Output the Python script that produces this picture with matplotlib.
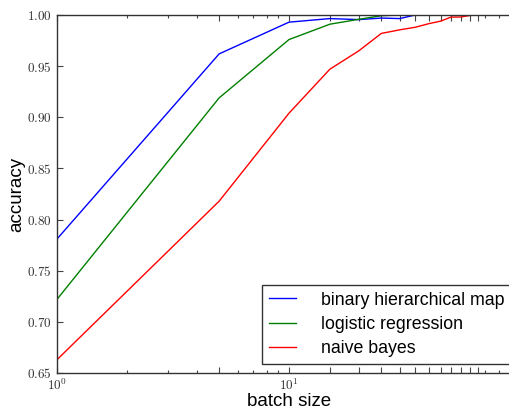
import math
import matplotlib
matplotlib.use("Agg")
import matplotlib.pyplot as plt
from matplotlib.ticker import FixedLocator, FuncFormatter, LogLocator, NullFormatter

plt.rcParams['mathtext.fontset'] = 'cm'
plt.rcParams['font.family'] = ['Liberation Sans', 'DejaVu Sans']

# batch sizes and accuracies
batch = [1, 5, 10, 15, 20, 25, 30, 35, 40, 45, 50, 55, 60, 65]
acc_bhm = [0.781, 0.962, 0.993, 0.9965, 0.9955, 0.997, 0.9965, 1.0, 1.0, 1.0, 1.0, 1.0, 1.0, 1.0]
acc_logreg = [0.722, 0.919, 0.976, 0.991, 0.9958, 0.9993, 1.0, 1.0, 1.0, 1.0, 1.0, 1.0, 1.0, 1.0]
acc_nb = [0.663, 0.818, 0.904, 0.947, 0.965, 0.982, 0.9855, 0.988, 0.9915, 0.994, 0.998, 0.998, 0.9995, 1.0]
labels = ['binary hierarchical map', 'logistic regression', 'naive bayes']
yticks = [0.65, 0.70, 0.75, 0.80, 0.85, 0.90, 0.95, 1.00]

W, H = 510, 409
fig = plt.figure(figsize=(W / 100, H / 100), dpi=100)
# axes runs past the right edge of the picture (the reference is cropped)
ax = fig.add_axes([57 / W, (H - 373) / H, (521 - 57) / W, (373 - 15) / H])

ax.plot(batch, acc_bhm, color='b', lw=1.0, label=labels[0])
ax.plot(batch, acc_logreg, color='g', lw=1.0, label=labels[1])
ax.plot(batch, acc_nb, color='r', lw=1.0, label=labels[2])

ax.set_xscale('log')
ax.set_xlim(1, 100)
ax.set_ylim(0.65, 1.0)

ax.xaxis.set_major_locator(FixedLocator(batch))
ax.xaxis.set_minor_locator(LogLocator(base=10, subs=range(2, 10)))
ax.xaxis.set_minor_formatter(NullFormatter())

def xfmt(v, pos):
    e = math.log10(v)
    if abs(e - round(e)) < 1e-9:
        return r'$10^{%d}$' % round(e)
    return ''

ax.xaxis.set_major_formatter(FuncFormatter(xfmt))
ax.set_yticks(yticks)
ax.yaxis.set_major_formatter(FuncFormatter(lambda v, p: r'$%.2f$' % v))

ax.tick_params(which='both', direction='in', top=True, right=True, color='#444444')
ax.tick_params(which='major', length=4, width=0.8, labelsize=9.5, pad=4, labelcolor='#333333')
ax.tick_params(axis='x', which='major', pad=3)
ax.tick_params(which='minor', length=2, width=0.8)
for s in ax.spines.values():
    s.set_color('#333333')
    s.set_linewidth(1.0)

ax.set_xlabel('batch size', fontsize=13.5, labelpad=0)
ax.set_ylabel('accuracy', fontsize=13.5, labelpad=1)

leg = ax.legend(loc='lower left', bbox_to_anchor=(262 / W, (H - 364) / H),
                bbox_transform=fig.transFigure, borderaxespad=0,
                fontsize=12.8, handlelength=1.5, handletextpad=1.4,
                labelspacing=0.4, fancybox=False, framealpha=1)
leg.get_frame().set_edgecolor('#333333')
leg.get_frame().set_linewidth(1.0)

fig.savefig('out.png', dpi=100)
